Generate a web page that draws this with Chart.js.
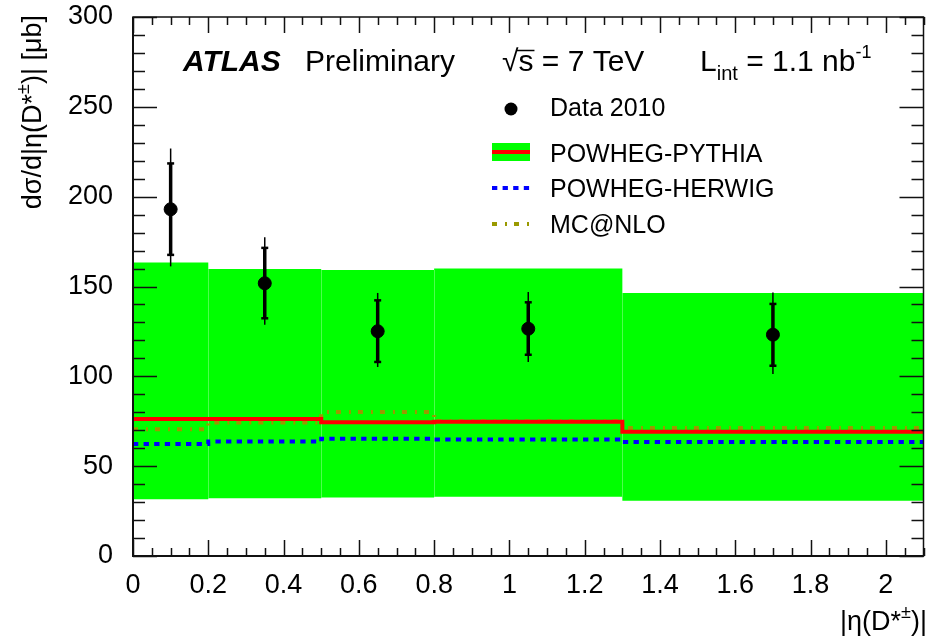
<!DOCTYPE html>
<html>
<head>
<meta charset="utf-8">
<script src="https://cdn.jsdelivr.net/npm/chart.js@4.4.1/dist/chart.umd.min.js"></script>
<style>
  html, body { margin: 0; padding: 0; background: #fff; }
  #wrap { width: 931px; height: 640px; position: relative; }
</style>
</head>
<body>
<div id="wrap"><canvas id="etaChart"></canvas></div>
<script>
// bin edges in |eta(D*)| and the MC predictions per bin
var binEdges = [0, 0.2, 0.5, 0.8, 1.3, 2.1];
var pythiaCentral = [76.2, 76.2, 74.5, 74.7, 69.1];
var pythiaHigh = [163.3, 159.8, 159.2, 160.0, 146.4];
var pythiaLow = [31.6, 32.2, 32.5, 33.0, 30.7];
var herwigCentral = [62.4, 63.7, 65.2, 64.8, 63.4];
var mcnloCentral = [70.6, 74.3, 80.1, 75.0, 71.2];

// data 2010 points with stat (inner) and total (outer) errors
var dataEta = [0.1, 0.35, 0.65, 1.05, 1.7];
var dataXsec = [193.0, 151.8, 125.1, 126.5, 123.2];
var statHigh = [218.5, 171.5, 142.3, 141.2, 140.3];
var statLow = [167.6, 132.3, 108.0, 112.0, 105.9];
var totHigh = [226.8, 177.4, 146.4, 147.0, 146.7];
var totLow = [161.2, 128.7, 105.2, 108.0, 101.3];

// tick labels
var xTickValues = [0, 0.2, 0.4, 0.6, 0.8, 1, 1.2, 1.4, 1.6, 1.8, 2];
var yTickValues = [0, 50, 100, 150, 200, 250, 300];

var FONT = "'Liberation Sans', Arial, Helvetica, sans-serif";

function steps(vals) {
    return binEdges.map(function (e, i) {
        return { x: e, y: vals[Math.min(i, vals.length - 1)] };
    });
}

function font(size, style) {
    return (style ? style + ' ' : '') + size + 'px ' + FONT;
}

// draws text pieces (with sub/superscripts) starting at x, returns end x
function drawPieces(ctx, pieces, x, y) {
    pieces.forEach(function (p) {
        ctx.font = font(p.size, p.style);
        ctx.fillText(p.t, x, y + (p.dy || 0));
        x += ctx.measureText(p.t).width + (p.gap || 0);
    });
    return x;
}

function piecesWidth(ctx, pieces) {
    var w = 0;
    pieces.forEach(function (p) {
        ctx.font = font(p.size, p.style);
        w += ctx.measureText(p.t).width + (p.gap || 0);
    });
    return w;
}

var rootStyle = {
    id: 'rootStyle',
    afterDatasetDraw: function (chart, args) {
        if (args.index !== 0) return;
        // faint seams between the band boxes
        var ctx = chart.ctx, xs = chart.scales.x, ys = chart.scales.y;
        ctx.save();
        ctx.strokeStyle = 'rgba(255,255,255,0.3)';
        ctx.lineWidth = 1;
        for (var i = 1; i < binEdges.length - 1; i++) {
            var px = Math.round(xs.getPixelForValue(binEdges[i])) + 0.5;
            var top = ys.getPixelForValue(Math.min(pythiaHigh[i - 1], pythiaHigh[i]));
            var bot = ys.getPixelForValue(Math.max(pythiaLow[i - 1], pythiaLow[i]));
            ctx.beginPath();
            ctx.moveTo(px, top);
            ctx.lineTo(px, bot);
            ctx.stroke();
        }
        ctx.restore();
    },
    afterDatasetsDraw: function (chart) {
        var ctx = chart.ctx, xs = chart.scales.x, ys = chart.scales.y;
        var a = chart.chartArea;
        ctx.save();

        // error bars
        ctx.strokeStyle = '#000';
        dataEta.forEach(function (eta, i) {
            var px = xs.getPixelForValue(eta);
            ctx.lineWidth = 1.5;
            ctx.beginPath();
            ctx.moveTo(px, ys.getPixelForValue(totLow[i]));
            ctx.lineTo(px, ys.getPixelForValue(totHigh[i]));
            ctx.stroke();
            ctx.lineWidth = 3.5;
            ctx.beginPath();
            ctx.moveTo(px, ys.getPixelForValue(statLow[i]));
            ctx.lineTo(px, ys.getPixelForValue(statHigh[i]));
            ctx.stroke();
            ctx.lineWidth = 2.5;
            [statLow[i], statHigh[i]].forEach(function (v) {
                var py = ys.getPixelForValue(v);
                ctx.beginPath();
                ctx.moveTo(px - 3.5, py);
                ctx.lineTo(px + 3.5, py);
                ctx.stroke();
            });
        });

        // frame
        ctx.strokeStyle = '#111';
        ctx.lineWidth = 1.5;
        ctx.strokeRect(a.left, a.top, a.right - a.left, a.bottom - a.top);
        ctx.lineWidth = 2;
        ctx.beginPath();
        ctx.moveTo(a.left, a.top);
        ctx.lineTo(a.left, a.bottom);
        ctx.lineTo(a.right, a.bottom);
        ctx.stroke();

        // ticks on all four sides, pointing inwards
        ctx.lineWidth = 1.5;
        ctx.beginPath();
        for (var k = 0; k <= 42; k++) {
            var px = Math.round(xs.getPixelForValue(k * 0.05)) + 0.5;
            var len = (k % 4 === 0) ? 16 : 8;
            ctx.moveTo(px, a.bottom); ctx.lineTo(px, a.bottom - len);
            ctx.moveTo(px, a.top); ctx.lineTo(px, a.top + len);
        }
        for (var j = 0; j <= 30; j++) {
            var py = Math.round(ys.getPixelForValue(j * 10)) + 0.5;
            var ylen = (j % 5 === 0) ? 24 : 12;
            ctx.moveTo(a.left, py); ctx.lineTo(a.left + ylen, py);
            ctx.moveTo(a.right, py); ctx.lineTo(a.right - ylen, py);
        }
        ctx.stroke();
        ctx.restore();
    },
    afterDraw: function (chart) {
        var ctx = chart.ctx;
        ctx.save();
        ctx.fillStyle = '#000';
        ctx.textBaseline = 'alphabetic';
        ctx.textAlign = 'left';

        // header texts
        ctx.font = font(30, 'italic bold');
        ctx.fillText('ATLAS', 183, 71);
        ctx.font = font(30);
        ctx.fillText('Preliminary', 305, 71);

        ctx.fillText('\u221A', 502, 71);
        var sx = 502 + ctx.measureText('\u221A').width;
        ctx.fillText('s = 7 TeV', sx, 71);
        ctx.strokeStyle = '#000';
        ctx.lineWidth = 1.5;
        ctx.beginPath();
        ctx.moveTo(sx - 2, 50.5);
        ctx.lineTo(sx + ctx.measureText('s').width + 1, 50.5);
        ctx.stroke();

        drawPieces(ctx, [
            { t: 'L', size: 30 },
            { t: 'int', size: 20, dy: 9 },
            { t: ' = 1.1 nb', size: 30 },
            { t: '-1', size: 18, dy: -13 }
        ], 700, 71);

        // legend
        ctx.beginPath();
        ctx.arc(511, 109, 6.5, 0, Math.PI * 2);
        ctx.fill();
        ctx.fillStyle = '#00ff00';
        ctx.fillRect(492, 143, 38, 18);
        ctx.strokeStyle = '#ff0000';
        ctx.lineWidth = 4;
        ctx.beginPath();
        ctx.moveTo(492, 152); ctx.lineTo(530, 152);
        ctx.stroke();
        ctx.strokeStyle = '#0000ff';
        ctx.setLineDash([5.3, 5.3]);
        ctx.beginPath();
        ctx.moveTo(492, 188); ctx.lineTo(532, 188);
        ctx.stroke();
        ctx.strokeStyle = '#999900';
        ctx.setLineDash([5, 8, 2, 7]);
        ctx.beginPath();
        ctx.moveTo(492, 224); ctx.lineTo(532, 224);
        ctx.stroke();
        ctx.setLineDash([]);

        ctx.fillStyle = '#000';
        ctx.font = font(25);
        ctx.fillText('Data 2010', 550, 116);
        ctx.fillText('POWHEG-PYTHIA', 550, 161.5);
        ctx.fillText('POWHEG-HERWIG', 550, 197);
        ctx.fillText('MC@NLO', 550, 232.5);

        // x axis title, right aligned
        var xTitle = [
            { t: '|\u03B7(D', size: 27 },
            { t: '*', size: 27 },
            { t: '\u00B1', size: 18, dy: -12 },
            { t: ')|', size: 27 }
        ];
        drawPieces(ctx, xTitle, 927 - piecesWidth(ctx, xTitle), 630);

        // y axis title, rotated, right aligned at top
        var yTitle = [
            { t: 'd\u03C3/d|\u03B7(D', size: 27 },
            { t: '*', size: 27 },
            { t: '\u00B1', size: 18, dy: -12 },
            { t: ')| [\u03BCb]', size: 27 }
        ];
        ctx.translate(41, 15);
        ctx.rotate(-Math.PI / 2);
        drawPieces(ctx, yTitle, -piecesWidth(ctx, yTitle), 0);
        ctx.restore();
    }
};

var ctx = document.getElementById('etaChart').getContext('2d');
var etaChart = new Chart(ctx, {
    type: 'line',
    data: {
        datasets: [
            {
                label: 'POWHEG-PYTHIA band high',
                data: steps(pythiaHigh),
                stepped: 'before',
                fill: '+1',
                backgroundColor: '#00ff00',
                borderColor: 'rgba(0,0,0,0)',
                borderWidth: 0,
                pointRadius: 0,
                order: 10
            },
            {
                label: 'POWHEG-PYTHIA band low',
                data: steps(pythiaLow),
                stepped: 'before',
                fill: false,
                borderColor: 'rgba(0,0,0,0)',
                borderWidth: 0,
                pointRadius: 0,
                order: 11
            },
            {
                label: 'MC@NLO',
                data: steps(mcnloCentral),
                stepped: 'before',
                fill: false,
                borderColor: '#999900',
                borderWidth: 4,
                borderDash: [5, 8, 2, 7],
                pointRadius: 0,
                order: 5
            },
            {
                label: 'POWHEG-HERWIG',
                data: steps(herwigCentral),
                stepped: 'before',
                fill: false,
                borderColor: '#0000ff',
                borderWidth: 4,
                borderDash: [5.3, 5.3],
                pointRadius: 0,
                order: 4
            },
            {
                label: 'POWHEG-PYTHIA',
                data: steps(pythiaCentral),
                stepped: 'before',
                fill: false,
                borderColor: '#ff0000',
                borderWidth: 4,
                pointRadius: 0,
                order: 3
            },
            {
                type: 'scatter',
                label: 'Data 2010',
                data: dataEta.map(function (x, i) { return { x: x, y: dataXsec[i] }; }),
                backgroundColor: '#000',
                borderColor: '#000',
                pointRadius: 6.5,
                pointHoverRadius: 6.5,
                order: 0
            }
        ]
    },
    options: {
        animation: false,
        responsive: true,
        maintainAspectRatio: false,
        events: [],
        layout: { padding: { top: 17, right: 5, left: 0, bottom: 0 } },
        plugins: {
            legend: { display: false },
            tooltip: { enabled: false }
        },
        scales: {
            x: {
                type: 'linear',
                min: 0,
                max: 2.1,
                grid: { display: false, drawTicks: false },
                border: { display: false },
                afterBuildTicks: function (scale) {
                    scale.ticks = xTickValues.map(function (v) { return { value: v }; });
                },
                afterFit: function (scale) {
                    scale.height = 84;
                    scale.paddingLeft = 0;
                    scale.paddingRight = 0;
                },
                ticks: {
                    color: '#000',
                    padding: 13,
                    maxRotation: 0,
                    autoSkip: false,
                    font: { family: FONT, size: 27 },
                    callback: function (v) { return String(Math.round(v * 10) / 10); }
                }
            },
            y: {
                type: 'linear',
                min: 0,
                max: 300,
                grid: { display: false, drawTicks: false },
                border: { display: false },
                afterBuildTicks: function (scale) {
                    scale.ticks = yTickValues.map(function (v) { return { value: v }; });
                },
                afterFit: function (scale) {
                    scale.width = 133;
                    scale.paddingTop = 0;
                    scale.paddingBottom = 0;
                },
                ticks: {
                    color: '#000',
                    padding: 20,
                    autoSkip: false,
                    font: { family: FONT, size: 27 }
                }
            }
        }
    },
    plugins: [rootStyle]
});
</script>
</body>
</html>
